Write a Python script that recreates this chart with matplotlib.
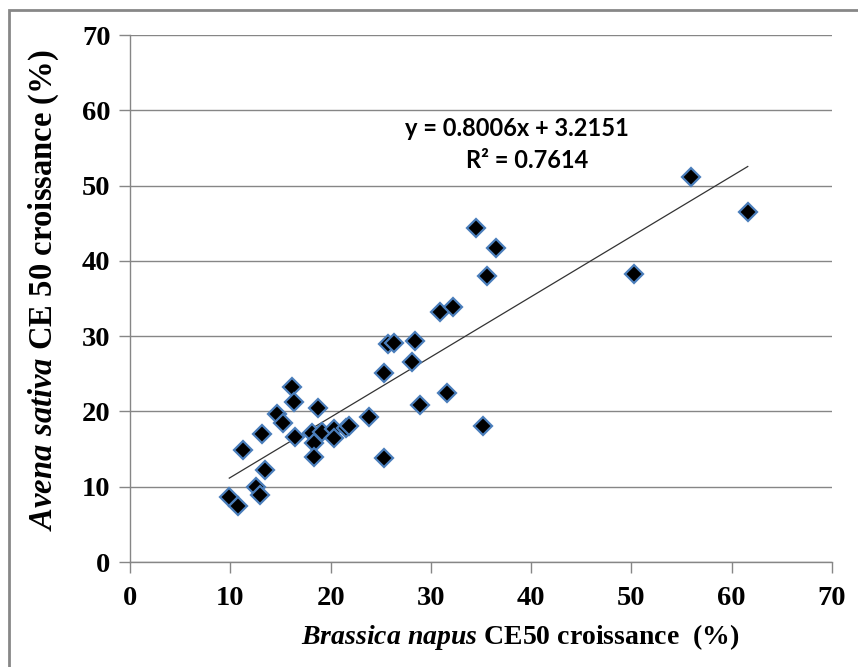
import matplotlib
matplotlib.use("Agg")
import matplotlib.pyplot as plt
from matplotlib.patches import Rectangle
import numpy as np

# Growth EC50 (%) for each extract: Brassica napus (x) vs Avena sativa (y)
brassica = [9.9, 10.8, 11.3, 12.6, 13.0, 13.2, 13.5, 14.7, 15.3, 16.2,
            16.4, 16.5, 18.1, 18.3, 18.3, 18.7, 19.1, 20.3, 20.3, 21.5,
            21.8, 23.8, 25.3, 25.3, 25.7, 26.3, 28.1, 28.4, 28.9, 30.9,
            31.6, 32.2, 34.5, 35.2, 35.6, 36.5, 50.3, 55.9, 61.6]
avena = [8.7, 7.5, 14.9, 9.9, 8.9, 17.0, 12.2, 19.7, 18.5, 23.2,
         21.3, 16.6, 17.2, 15.8, 13.9, 20.5, 17.3, 17.6, 16.5, 17.8,
         18.1, 19.3, 25.1, 13.8, 28.9, 29.1, 26.5, 29.3, 20.8, 33.2,
         22.4, 33.9, 44.3, 18.1, 38.0, 41.7, 38.3, 51.2, 46.5]

# Linear trend line coefficients
slope = 0.8006
intercept = 3.2151
r_squared = 0.7614

ticks = [0, 10, 20, 30, 40, 50, 60, 70]

plt.rcParams["mathtext.fontset"] = "custom"
plt.rcParams["mathtext.rm"] = "Liberation Serif:bold"
plt.rcParams["mathtext.bfit"] = "Liberation Serif:italic:bold"
plt.rcParams["mathtext.it"] = "Liberation Serif:italic:bold"

fig = plt.figure(figsize=(8.58, 6.67), dpi=100)
ax = fig.add_axes([130 / 858, 1 - 562 / 667, 702 / 858, 527 / 667])

grey = "#868686"
ax.set_xlim(0, 70)
ax.set_ylim(0, 70)
ax.set_xticks(ticks)
ax.set_yticks(ticks)
ax.yaxis.grid(True, color=grey, linewidth=1.0)
ax.set_axisbelow(True)
for side in ("top", "right"):
    ax.spines[side].set_visible(False)
for side in ("left", "bottom"):
    ax.spines[side].set_color(grey)
    ax.spines[side].set_linewidth(1.0)
ax.tick_params(axis="both", direction="out", length=8, width=1.0,
               color=grey, pad=6)
for lab in ax.get_xticklabels() + ax.get_yticklabels():
    lab.set_fontfamily("Liberation Serif")
    lab.set_fontweight("bold")
    lab.set_fontsize(20.5)
ax.tick_params(axis="x", pad=9)

# Trend line over the data range
xs = np.array([min(brassica), max(brassica)])
ax.plot(xs, slope * xs + intercept, color="#333333", linewidth=0.9, zorder=2)

ax.plot(brassica, avena, linestyle="none", marker="D", markersize=9.5,
        markerfacecolor="black", markeredgecolor="#4a7ebb",
        markeredgewidth=1.6, zorder=3)

ax.text(517 / 858, 1 - 128 / 667, f"y = {slope}x + {intercept}",
        transform=fig.transFigure, ha="center", va="center",
        fontfamily="Lato", fontweight="bold", fontsize=17)
ax.text(527 / 858, 1 - 161 / 667, f"R² = {r_squared}",
        transform=fig.transFigure, ha="center", va="center",
        fontfamily="Lato", fontweight="bold", fontsize=17)

fig.text(520 / 858, 1 - 637 / 667,
         r"$\mathbfit{Brassica\ napus}$ CE50 croissance  (%)",
         ha="center", va="center", fontfamily="Liberation Serif",
         fontweight="bold", fontsize=20)
fig.text(44 / 858, 1 - 290 / 667,
         r"$\mathbfit{Avena\ sativa}$ CE 50 croissance (%)",
         ha="center", va="center", rotation=90, fontfamily="Liberation Serif",
         fontweight="bold", fontsize=23.5)

# Outer frame around the chart area
fig.patches.append(Rectangle((9 / 858, -0.1), 1.2, 1.1 - 10 / 667,
                             transform=fig.transFigure, fill=False,
                             edgecolor="#878787", linewidth=2.0))

fig.savefig("out.png", dpi=100)
